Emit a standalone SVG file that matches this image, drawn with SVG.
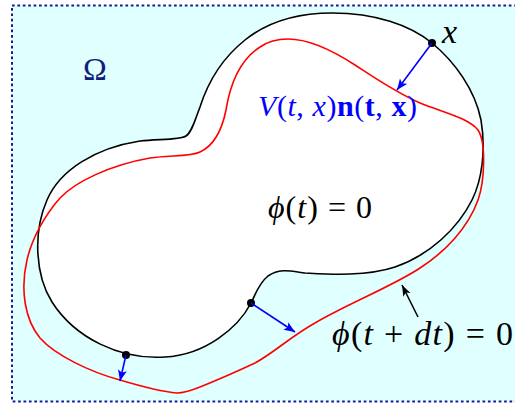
<svg xmlns="http://www.w3.org/2000/svg" width="515" height="405" viewBox="0 0 515 405">
<style>
.lbl{font-family:"Liberation Serif","DejaVu Serif",serif;}
.it{font-style:italic;}
.bf{font-weight:bold;}
.curve{fill:none;stroke-width:1.6;stroke-linejoin:round;}
.arr{stroke-width:1.6;fill:none;}
</style>
<defs>
<marker id="ahBlue" markerUnits="userSpaceOnUse" markerWidth="12" markerHeight="10" refX="11" refY="4.5" orient="auto">
<path d="M0,0 L11,4.5 L0,9 L2.5,4.5 Z" fill="#0000ff"/>
</marker>
<marker id="ahBlack" markerUnits="userSpaceOnUse" markerWidth="12" markerHeight="10" refX="11" refY="4" orient="auto">
<path d="M0,0 L11,4 L0,8 L2.5,4 Z" fill="#000"/>
</marker>
</defs>
<g id="domain">
<rect x="12" y="5.5" width="530" height="396" fill="#e0ffff" stroke="#1a1a9a" stroke-width="2" stroke-dasharray="2.7 2.7"/>
<text class="lbl" x="83" y="80" font-size="32" fill="#10207a">Ω</text>
</g>
<g id="front-t">
<path class="curve" style="fill:#fff" stroke="#000" d="M332,13 C375,13 410,25 432,43 C455,62 475,90 481,120 C486,150 482,180 472,200 C458,228 430,255 395,267 C365,277 325,274 305,273 C290,271 280,268 268,276 C258,284 255,296 251,303 C238,328 205,355 165,357 C120,360 75,338 52,302 C35,275 33,232 47,200 C60,170 95,148 140,141 C160,139 180,140 186,136 C192,132 195,120 200,107 C207,85 220,60 245,40 C270,20 300,13 332,13 Z"/>
<text class="lbl" x="268" y="218" font-size="32" textLength="104" lengthAdjust="spacing"><tspan class="it">ϕ</tspan>(<tspan class="it">t</tspan>) = 0</text>
</g>
<g id="front-tdt">
<path class="curve" stroke="#ff0000" d="M288,39 C310,39 335,52 355,65 C375,78 395,92 420,103 C445,113 468,118 478,130 C486,142 485,180 478,200 C468,228 445,252 420,268 C395,285 345,305 315,323 C290,337 275,352 255,363 C240,370 215,381 200,387 C190,391 182,393 177,393 C165,392 140,386 120,380 C90,372 55,355 40,338 C25,320 20,290 27,260 C32,238 45,215 60,198 C75,182 110,165 150,158 C170,155 190,157 200,152 C215,145 222,130 226,110 C230,85 240,60 260,47 C270,40 280,39 288,39 Z"/>
<text class="lbl" x="332" y="345" font-size="34" textLength="181" lengthAdjust="spacing"><tspan class="it">ϕ</tspan>(<tspan class="it">t</tspan> + <tspan class="it">dt</tspan>) = 0</text>
</g>
<g id="point-x">
<circle cx="432" cy="43" r="4" fill="#000"/>
<text class="lbl it" x="442" y="43" font-size="34">x</text>
</g>
<g id="point-2">
<circle cx="251" cy="303" r="4" fill="#000"/>
</g>
<g id="point-3">
<circle cx="126" cy="355" r="4" fill="#000"/>
</g>
<g id="velocity-label">
<text class="lbl" x="258" y="116" font-size="30" fill="#0000ff" textLength="159" lengthAdjust="spacing"><tspan class="it">V</tspan>(<tspan class="it">t</tspan>, <tspan class="it">x</tspan>)<tspan class="bf">n</tspan>(<tspan class="bf">t</tspan>, <tspan class="bf">x</tspan>)</text>
</g>
<g id="connectors">
<line class="arr" x1="432" y1="43" x2="397" y2="90" stroke="#0000ff" marker-end="url(#ahBlue)"/>
<line class="arr" x1="251" y1="303" x2="295" y2="332" stroke="#0000ff" marker-end="url(#ahBlue)"/>
<line class="arr" x1="126" y1="355" x2="120" y2="381" stroke="#0000ff" marker-end="url(#ahBlue)"/>
<line class="arr" x1="418" y1="317" x2="402" y2="285" stroke="#000" stroke-width="1.3" marker-end="url(#ahBlack)"/>
</g>
</svg>
